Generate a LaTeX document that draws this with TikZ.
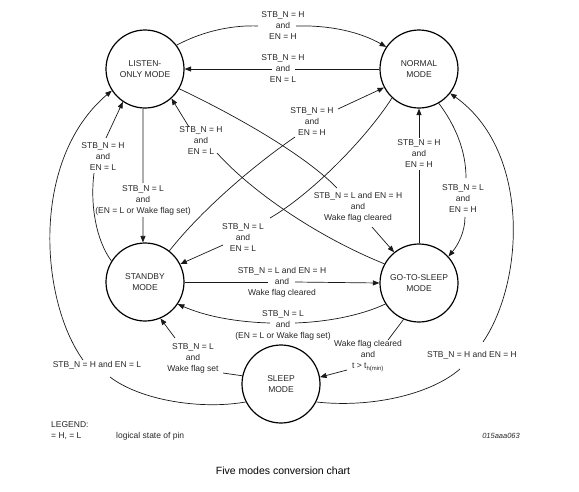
\documentclass[tikz,border=0pt]{standalone}
\usepackage{fontspec}
\setmainfont{Liberation Sans}
\usetikzlibrary{arrows.meta,calc}
\begin{document}
\begin{tikzpicture}[x=1pt,y=-1pt,
  mode/.style={circle,draw=black,line width=1.2pt,minimum size=78pt,inner sep=0pt,align=center,font=\fontsize{8.5}{10.5}\selectfont,text=black!85},
  lbl/.style={align=center,font=\fontsize{8.5}{11}\selectfont,text=black!85,inner sep=2pt},
  legtxt/.style={anchor=west,inner sep=0pt,font=\fontsize{8.5}{10}\selectfont,text=black!85},
  conn/.style={line width=0.7pt,draw=black!90},
  arr/.style={conn,-{Triangle[length=6.5pt,width=5pt]}},
]
\useasboundingbox (0,0) rectangle (579,491);
% modes
\node[mode] (lo) at (145,69) {LISTEN-\\ONLY MODE};
\node[mode] (no) at (419,69) {NORMAL\\MODE};
\node[mode] (sb) at (145,282) {STANDBY\\MODE};
\node[mode] (gs) at (419,283) {GO-TO-SLEEP\\MODE};
\node[mode] (sl) at (281,384) {SLEEP\\MODE};
% labels
\node[lbl] (L1) at (283,26) {STB\_N = H\\and\\EN = H};
\node[lbl] (L2) at (283,69) {STB\_N = H\\and\\EN = L};
\node[lbl] (L3) at (312,122) {STB\_N = H\\and\\EN = H};
\node[lbl] (L4) at (243,238) {STB\_N = L\\and\\EN = L};
\node[lbl] (L5) at (201,141) {STB\_N = H\\and\\EN = L};
\node[lbl] (L6) at (358,207) {STB\_N = L and EN = H\\and\\Wake flag cleared};
\node[lbl] (L7) at (419,154) {STB\_N = H\\and\\EN = H};
\node[lbl] (L8) at (463,199) {STB\_N = L\\and\\EN = H};
\node[lbl] (L9) at (143,200) {STB\_N = L\\and\\(EN = L or Wake flag set)};
\node[lbl] (L10) at (103,157) {STB\_N = H\\and\\EN = L};
\node[lbl] (L11) at (282,282) {STB\_N = L and EN = H\\and\\Wake flag cleared};
\node[lbl] (L12) at (283,325) {STB\_N = L\\and\\(EN = L or Wake flag set)};
\node[lbl] (L13) at (193,358) {STB\_N = L\\and\\Wake flag set};
\node[lbl] (L14) at (368,356) {Wake flag cleared\\and\\t > t\textsubscript{h(min)}};
\node[lbl] (L15) at (97,365) {STB\_N = H and EN = L};
\node[lbl] (L16) at (472,355) {STB\_N = H and EN = H};
% connectors
\draw[conn] (lo.37) .. controls (205,30) and (235,25) .. ($(L1.center)+(-25,0)$);
\draw[arr] ($(L1.center)+(13,0)$) .. controls (330,25) and (360,32) .. (no.146);
\draw[conn] (no.180) -- ($(L2.center)+(12,0)$);
\draw[arr] ($(L2.center)+(-11,0)$) -- (lo.0);
\draw[conn] (sb.52) .. controls (200,212) and (250,168) .. ($(L3.center)+(-17,15)$);
\draw[arr] ($(L3.center)+(26,-13)$) -- (no.-152);
\draw[conn] (no.-133) .. controls (365,140) and (310,195) .. ($(L4.center)+(27,-20)$);
\draw[arr] ($(L4.center)+(-20,7)$) -- (sb.27);
\draw[conn] (gs.151) .. controls (318,237) and (252,192) .. ($(L5.center)+(16,12)$);
\draw[arr] ($(L5.center)+(-12,-14)$) -- (lo.-48);
\draw[conn] (lo.-30) .. controls (220,108) and (300,150) .. ($(L6.center)+(-21,-19)$);
\draw[arr] ($(L6.center)+(14,20)$) -- (gs.129);
\draw[conn] (gs.90) -- (L7.south);
\draw[arr] (L7.north) -- (no.-90);
\draw[conn] (no.-60) .. controls (455,125) and (466,150) .. ($(L8.center)+(3,-21)$);
\draw[arr] ($(L8.center)+(2,18)$) .. controls (465,232) and (458,245) .. (gs.42);
\draw[conn] (lo.-93) -- (L9.north);
\draw[arr] (L9.south) -- (sb.93);
\draw[conn] (sb.148) .. controls (96,240) and (90,205) .. ($(L10.center)+(-9,16)$);
\draw[arr] ($(L10.center)+(3,-19)$) -- (lo.-124);
\draw[conn] (sb.0) -- ($(L11.center)+(-14,0)$);
\draw[arr] ($(L11.center)+(13,0)$) -- (gs.180);
\draw[conn] (gs.-148) .. controls (360,316) and (325,322) .. ($(L12.center)+(12,-2)$);
\draw[arr] ($(L12.center)+(-13,-2)$) .. controls (235,322) and (205,316) .. (sb.-34);
\draw[conn] (sl.168) -- ($(L13.center)+(30,15)$);
\draw[arr] ($(L13.center)+(-18,-20)$) -- (sb.-67);
\draw[conn] (gs.-113) -- ($(L14.center)+(20,-16)$);
\draw[arr] ($(L14.center)+(-21,14)$) -- (sl.10);
\draw[conn] (sl.-153) .. controls (200,410) and (140,400) .. ($(L15.center)+(13,12)$);
\draw[arr] ($(L15.center)+(-14,-5)$) .. controls (40,300) and (30,160) .. (lo.-147);
\draw[conn] (sl.-27) .. controls (370,408) and (430,395) .. ($(L16.center)+(-12,14)$);
\draw[arr] ($(L16.center)+(11,-13)$) .. controls (525,280) and (530,150) .. (no.-38);
% legend
\node[legtxt] (lg) at (51,425) {LEGEND:};
\node[legtxt] (lh) at (51,436) {= H, = L};
\node[legtxt] (ls) at (116,436) {logical state of pin};
\node[legtxt,anchor=east,font=\fontsize{7.5}{9}\selectfont\itshape] (fid) at (520,436) {015aaa063};
\node[inner sep=0pt,font=\fontsize{10.5}{12}\selectfont] (cap) at (283,471) {Five modes conversion chart};
\end{tikzpicture}
\end{document}
